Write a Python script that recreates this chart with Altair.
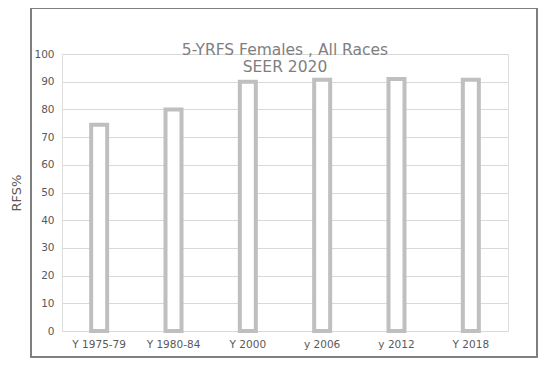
import altair as alt
import pandas as pd

categories = ["Y 1975-79", "Y 1980-84", "Y 2000", "y 2006", "y 2012", "Y 2018"]
values = [74.5, 80.0, 90.0, 90.7, 91.0, 90.7]

df = pd.DataFrame({"period": categories, "rfs": values})

FONT = "DejaVu Sans"

frame = alt.Chart(df).mark_rect(
    fill="white", fillOpacity=0, stroke="#7f7f7f", strokeWidth=1.2
).encode(
    x=alt.value(-31), x2=alt.value(475), y=alt.value(-46), y2=alt.value(303)
)

bars = alt.Chart(df).mark_bar(
    size=16, fill="white", stroke="#bfbfbf", strokeWidth=4
).encode(
    x=alt.X("period:N", sort=categories, title=None,
            scale=alt.Scale(paddingInner=0.75, paddingOuter=0.375),
            axis=alt.Axis(labelAngle=0, labelColor="#595959", labelFont=FONT,
                          labelFontSize=10.5, ticks=False, domain=False, labelPadding=8)),
    y=alt.Y("rfs:Q", title="RFS%",
            scale=alt.Scale(domain=[0, 100]),
            axis=alt.Axis(values=list(range(0, 101, 10)), grid=True, gridColor="#d9d9d9",
                          domain=False, ticks=False, labelColor="#595959", labelFont=FONT,
                          labelFontSize=10.5, labelPadding=8, titleColor="#595959",
                          titleFont=FONT, titleFontSize=13, titleFontWeight="normal",
                          titlePadding=10)),
)

chart = alt.layer(frame, bars).properties(
    width=446, height=277,
    title=alt.TitleParams(
        text=["5-YRFS Females , All Races", "SEER 2020"],
        anchor="middle", color="#7f7f7f", font=FONT, fontSize=15.5,
        fontWeight="normal", offset=-68, lineHeight=17,
    ),
    autosize=alt.AutoSizeParams(type="none"),
    padding={"left": 54, "top": 46, "right": 30, "bottom": 40},
).configure_view(stroke=None).configure(background="white")

chart.save("out.html", embed_options={"renderer": "svg", "actions": False})
